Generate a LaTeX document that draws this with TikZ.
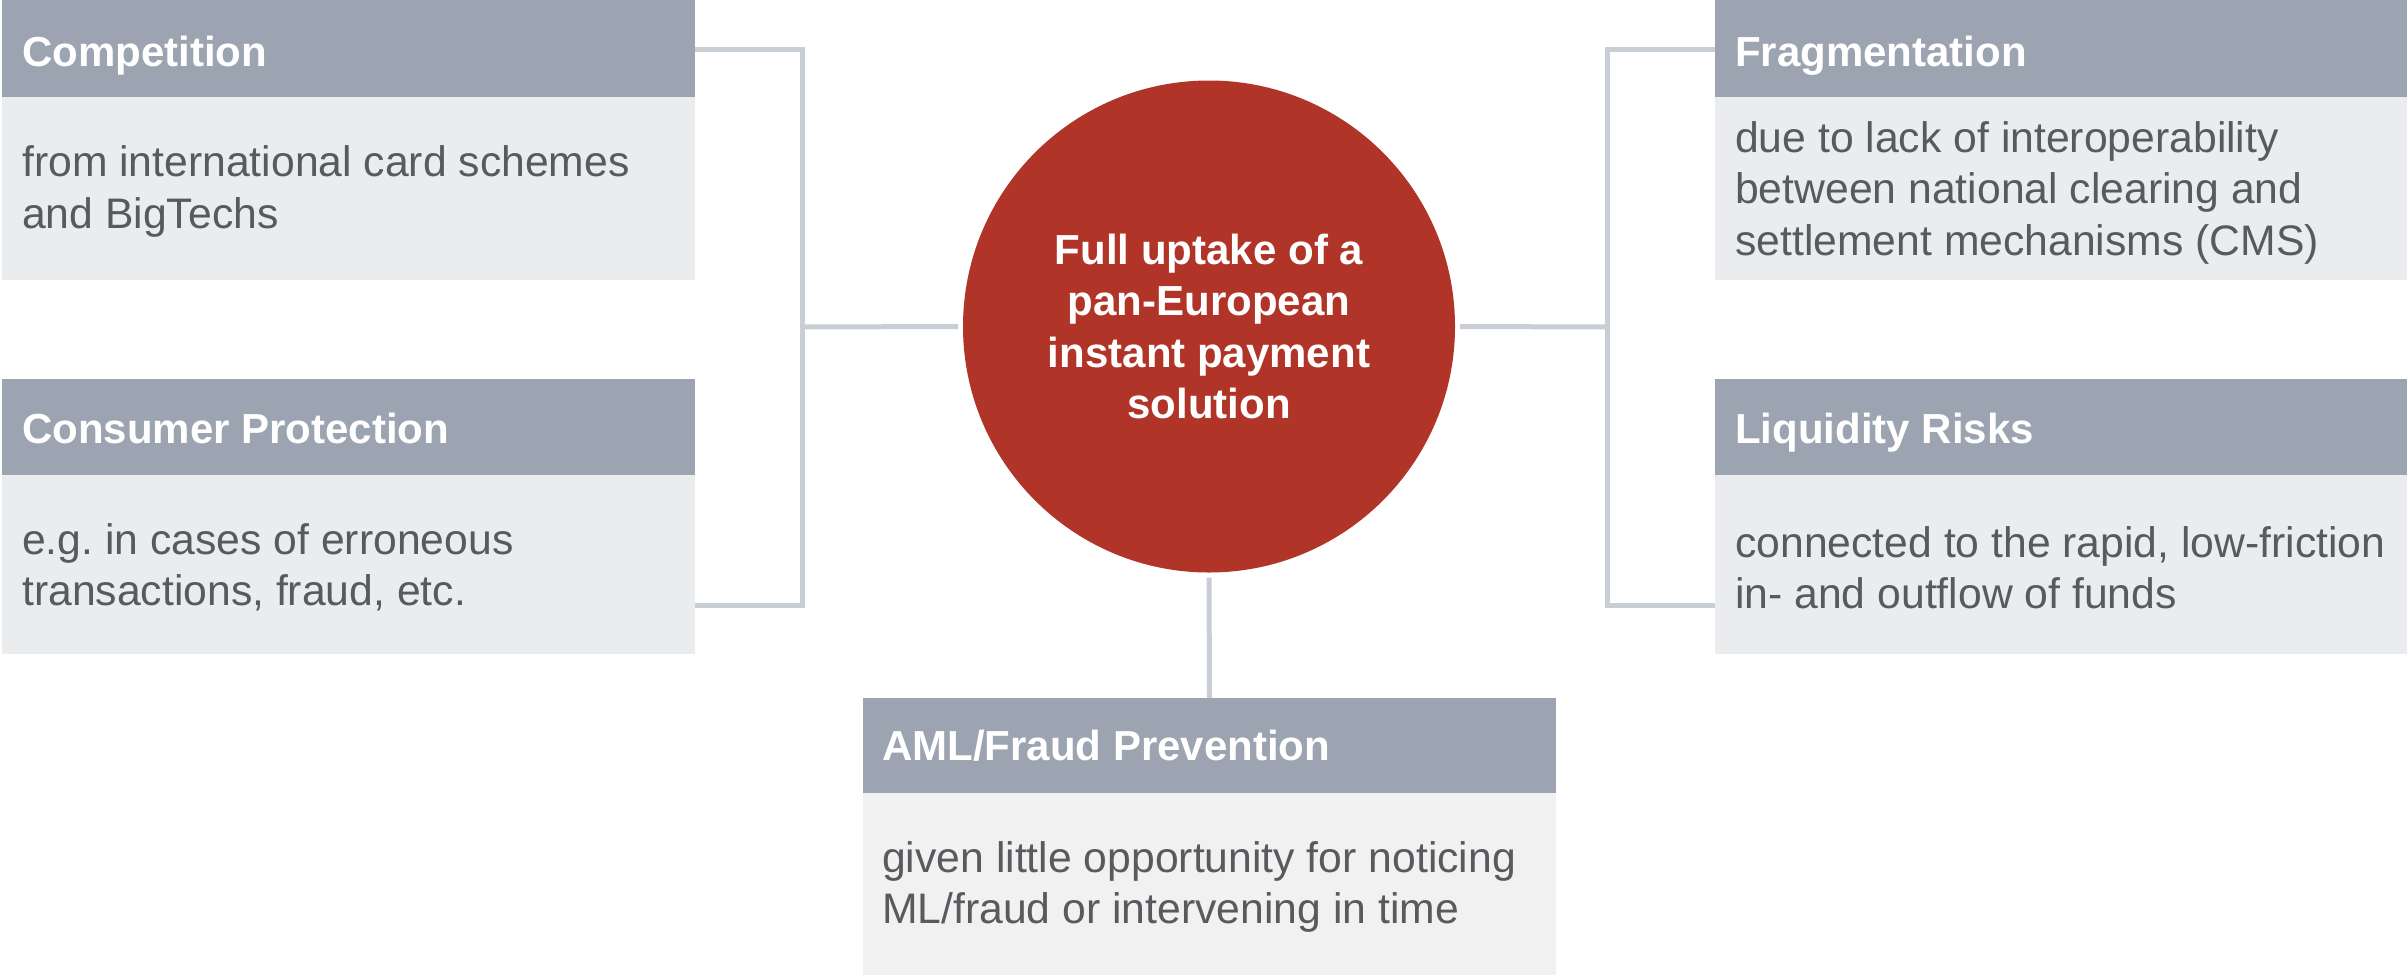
\documentclass[tikz,border=0pt]{standalone}
\usepackage{fontspec}
\setmainfont{Liberation Sans}
\usetikzlibrary{calc}
\frenchspacing

\definecolor{hdrgray}{HTML}{9BA4B0}
\definecolor{bodygray}{HTML}{EBECEE}
\definecolor{bodylight}{HTML}{F1F1F1}
\definecolor{linkgray}{HTML}{C9CED5}
\definecolor{hubred}{HTML}{B03427}
\definecolor{txtgray}{HTML}{595A5E}

\begin{document}
\begin{tikzpicture}[x=1pt,y=-1pt,
  panel/.style={anchor=north west, minimum width=693pt, inner sep=0pt,
    outer sep=0pt, draw=none},
  hdr/.style={panel, fill=hdrgray, minimum height=97pt},
  bodybox/.style={panel, fill=bodygray},
  hdrtext/.style={anchor=base west, inner sep=0pt, text=white,
    font=\fontsize{42}{51.5}\selectfont\bfseries},
  bodytext/.style={anchor=west, inner sep=0pt, text=txtgray, align=left,
    font=\fontsize{42.7}{51.5}\selectfont},
  link/.style={draw=linkgray, line width=5pt},
  hubnode/.style={circle, fill=hubred, minimum size=492pt, inner sep=0pt,
    outer sep=5pt, text=white, align=center,
    font=\fontsize{42}{51.5}\selectfont\bfseries}
]
\useasboundingbox (0,0) rectangle (2407,975);

% left column
\node[hdr] (comph) at (2,0) {};
\node[hdrtext] (comphtxt) at ($(comph.north west)+(20,66)$) {Competition};
\node[bodybox, minimum height=183pt] (compb) at (2,97) {};
\node[bodytext] (compbtxt) at ($(compb.west)+(20,3)$)
  {from international card schemes\\and BigTechs};
\node[hdr, minimum height=96pt] (consh) at (2,379) {};
\node[hdrtext] (conshtxt) at ($(consh.north west)+(20,64.5)$) {Consumer Protection};
\node[bodybox, minimum height=179pt] (consb) at (2,475) {};
\node[bodytext] (consbtxt) at ($(consb.west)+(20,3)$)
  {e.g. in cases of erroneous\\transactions, fraud, etc.};

% right column
\node[hdr] (fragh) at (1715,0) {};
\node[hdrtext] (fraghtxt) at ($(fragh.north west)+(20,66)$) {Fragmentation};
\node[bodybox, minimum height=183pt] (fragb) at (1715,97) {};
\node[bodytext] (fragbtxt) at ($(fragb.west)+(20,4)$)
  {due to lack of interoperability\\between national clearing and\\settlement mechanisms (CMS)};
\node[hdr, minimum height=96pt] (liqh) at (1715,379) {};
\node[hdrtext] (liqhtxt) at ($(liqh.north west)+(20,64.5)$) {Liquidity Risks};
\node[bodybox, minimum height=179pt] (liqb) at (1715,475) {};
\node[bodytext] (liqbtxt) at ($(liqb.west)+(20,3)$)
  {connected to the rapid, low-friction\\in- and outflow of funds};

% bottom box
\node[hdr, minimum height=95pt] (amlh) at (863,698) {};
\node[hdrtext] (amlhtxt) at ($(amlh.north west)+(19,62)$) {AML/Fraud Prevention};
\node[bodybox, fill=bodylight, minimum height=182pt] (amlb) at (863,793) {};
\node[bodytext] (amlbtxt) at ($(amlb.west)+(19,3)$)
  {given little opportunity for noticing\\ML/fraud or intervening in time};

% central hub
\node[hubnode] (hub) at (1209,326.5)
  {Full uptake of a\\pan-European\\instant payment\\solution};

% connectors
\coordinate (lj) at (802,327);
\coordinate (rj) at (1607,327);
\draw[link] ($(comph.north east)+(0,49)$) -| (lj);
\draw[link] ($(consb.north east)+(0,130)$) -| (lj);
\draw[link] (lj) -- (hub.west);
\draw[link] ($(fragh.north west)+(0,49)$) -| (rj);
\draw[link] ($(liqb.north west)+(0,130)$) -| (rj);
\draw[link] (rj) -- (hub.east);
\draw[link] (hub.south) -- (amlh.north);
\end{tikzpicture}
\end{document}
